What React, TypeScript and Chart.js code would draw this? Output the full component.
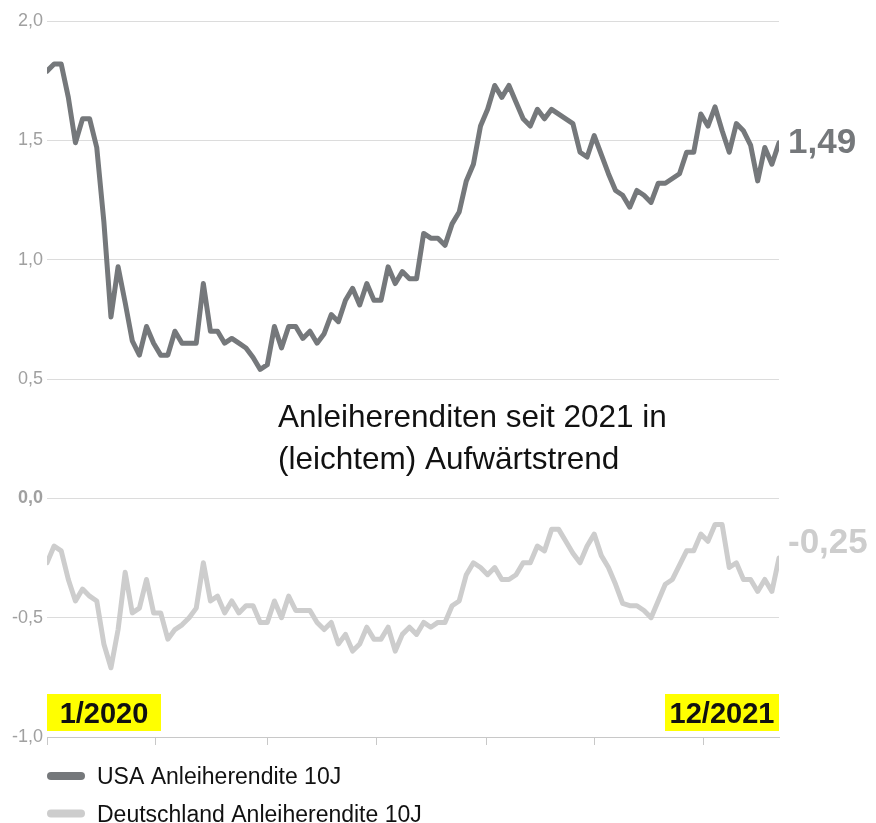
import React, { useEffect, useRef } from 'react';
import { Chart, registerables } from 'chart.js';

Chart.register(...registerables);

const FONT = '"Liberation Sans", Arial, Helvetica, sans-serif';

// USA 10Y yield, weekly, 1/2020 .. 12/2021
const usaYield = [
  1.79, 1.82, 1.82, 1.68, 1.49, 1.59, 1.59, 1.47, 1.16, 0.76,
  0.97, 0.82, 0.66, 0.60, 0.72, 0.65, 0.60, 0.60, 0.70, 0.65,
  0.65, 0.65, 0.90, 0.70, 0.70, 0.65, 0.67, 0.65, 0.63, 0.59,
  0.54, 0.56, 0.72, 0.63, 0.72, 0.72, 0.67, 0.70, 0.65, 0.69,
  0.77, 0.74, 0.83, 0.88, 0.81, 0.90, 0.83, 0.83, 0.97, 0.90,
  0.95, 0.92, 0.92, 1.11, 1.09, 1.09, 1.06, 1.15, 1.20, 1.33,
  1.40, 1.56, 1.63, 1.73, 1.68, 1.73, 1.66, 1.59, 1.56, 1.63,
  1.59, 1.63, 1.61, 1.59, 1.57, 1.45, 1.43, 1.52, 1.44, 1.36,
  1.29, 1.27, 1.22, 1.29, 1.27, 1.24, 1.32, 1.32, 1.34, 1.36,
  1.45, 1.45, 1.61, 1.56, 1.64, 1.54, 1.45, 1.57, 1.54, 1.48,
  1.33, 1.47, 1.40, 1.49,
];

// Germany 10Y yield, weekly, 1/2020 .. 12/2021
const deYield = [
  -0.27, -0.20, -0.22, -0.34, -0.43, -0.38, -0.41, -0.43, -0.61, -0.71,
  -0.55, -0.31, -0.48, -0.46, -0.34, -0.48, -0.48, -0.59, -0.55, -0.53,
  -0.50, -0.46, -0.27, -0.43, -0.41, -0.48, -0.43, -0.48, -0.45, -0.45,
  -0.52, -0.52, -0.43, -0.50, -0.41, -0.47, -0.47, -0.47, -0.52, -0.55,
  -0.52, -0.61, -0.57, -0.64, -0.61, -0.54, -0.59, -0.59, -0.54, -0.64,
  -0.57, -0.54, -0.57, -0.52, -0.54, -0.52, -0.52, -0.45, -0.43, -0.32,
  -0.27, -0.29, -0.32, -0.29, -0.34, -0.34, -0.32, -0.27, -0.27, -0.20,
  -0.22, -0.13, -0.13, -0.18, -0.23, -0.27, -0.20, -0.15, -0.24, -0.29,
  -0.36, -0.44, -0.45, -0.45, -0.47, -0.50, -0.43, -0.36, -0.34, -0.28,
  -0.22, -0.22, -0.15, -0.18, -0.11, -0.11, -0.29, -0.27, -0.34, -0.34,
  -0.39, -0.34, -0.39, -0.25,
];

const seriesNames = ['USA Anleiherendite 10J', 'Deutschland Anleiherendite 10J'];
const seriesColors = ['#75787b', '#cdcdcd'];
const periodLabels = ['1/2020', '12/2021'];
const titleLines = ['Anleiherenditen seit 2021 in', '(leichtem) Aufwärtstrend'];
const xTickPositions = [0, 15.2, 31, 46.4, 61.8, 77, 92.4];
const yTicks = [-1, -0.5, 0, 0.5, 1, 1.5, 2];
const endLabelBaselineOffsets = [10, -5];

const fmt = (v: number, d: number) => v.toFixed(d).replace('.', ',').replace('-0,00', '0,00');

const overlayPlugin = {
  id: 'overlay',
  afterDatasetsDraw(chart: any) {
    const { ctx, chartArea: a, scales } = chart;
    const xs = scales.x;
    const ys = scales.y;
    ctx.save();

    // end-of-series value labels
    chart.data.datasets.forEach((ds: any, di: number) => {
      const last = ds.data[ds.data.length - 1];
      const px = xs.getPixelForValue(last.x) + 9;
      const py = ys.getPixelForValue(last.y) + endLabelBaselineOffsets[di];
      ctx.font = `bold 35px ${FONT}`;
      ctx.fillStyle = ds.borderColor;
      ctx.textAlign = 'left';
      ctx.textBaseline = 'alphabetic';
      ctx.fillText(fmt(last.y, 2), px, py);
    });

    // title annotation
    ctx.font = `31.5px ${FONT}`;
    ctx.fillStyle = '#111111';
    ctx.textAlign = 'left';
    ctx.textBaseline = 'alphabetic';
    titleLines.forEach((line, i) => {
      ctx.fillText(line, a.left + 231, 427 + i * 42);
    });

    // period labels (yellow boxes)
    const boxW = 114;
    const boxTop = a.bottom - 43;
    const boxH = 37;
    const boxes = [a.left, a.right - boxW];
    periodLabels.forEach((lab, i) => {
      const bx = boxes[i];
      ctx.fillStyle = '#ffff00';
      ctx.fillRect(bx, boxTop, boxW, boxH);
      ctx.font = `bold 29px ${FONT}`;
      ctx.fillStyle = '#111111';
      ctx.textAlign = 'center';
      ctx.textBaseline = 'alphabetic';
      ctx.fillText(lab, bx + boxW / 2, boxTop + boxH / 2 + 10.5);
    });

    ctx.restore();
  },
  afterDraw(chart: any) {
    const { ctx, chartArea: a } = chart;
    ctx.save();
    chart.data.datasets.forEach((ds: any, i: number) => {
      const cy = a.bottom + 39 + i * 37.5;
      ctx.strokeStyle = ds.borderColor;
      ctx.lineWidth = 8;
      ctx.lineCap = 'round';
      ctx.beginPath();
      ctx.moveTo(a.left + 4, cy);
      ctx.lineTo(a.left + 34, cy);
      ctx.stroke();
      ctx.font = `23px ${FONT}`;
      ctx.fillStyle = '#111111';
      ctx.textAlign = 'left';
      ctx.textBaseline = 'alphabetic';
      ctx.fillText(ds.label, a.left + 50, cy + 8);
    });
    ctx.restore();
  },
};

export default function App() {
  const canvasRef = useRef<HTMLCanvasElement | null>(null);

  useEffect(() => {
    const canvas = canvasRef.current;
    if (!canvas) return;
    const chart = new Chart(canvas, {
      type: 'line',
      data: {
        datasets: [
          {
            label: seriesNames[0],
            data: usaYield.map((y, i) => ({ x: i, y })),
            borderColor: seriesColors[0],
            backgroundColor: seriesColors[0],
            borderWidth: 5,
            borderJoinStyle: 'round',
            borderCapStyle: 'round',
            pointRadius: 0,
            tension: 0,
          },
          {
            label: seriesNames[1],
            data: deYield.map((y, i) => ({ x: i, y })),
            borderColor: seriesColors[1],
            backgroundColor: seriesColors[1],
            borderWidth: 5,
            borderJoinStyle: 'round',
            borderCapStyle: 'round',
            pointRadius: 0,
            tension: 0,
          },
        ],
      },
      options: {
        responsive: false,
        animation: false,
        devicePixelRatio: 1,
        layout: { padding: { top: 21, right: 97, bottom: 76, left: 0 } },
        plugins: { legend: { display: false }, tooltip: { enabled: false } },
        scales: {
          x: {
            type: 'linear',
            min: 0,
            max: usaYield.length - 1,
            afterBuildTicks: (s: any) => {
              s.ticks = xTickPositions.map((v) => ({ value: v }));
            },
            ticks: { display: false },
            grid: {
              drawOnChartArea: false,
              drawTicks: true,
              tickLength: 8,
              color: '#c8c8c8',
              lineWidth: 1,
            },
            border: { display: true, color: '#c8c8c8', width: 1 },
            afterFit: (s: any) => {
              s.height = 10;
            },
          },
          y: {
            type: 'linear',
            min: -1,
            max: 2,
            afterBuildTicks: (s: any) => {
              s.ticks = yTicks.map((v) => ({ value: v }));
            },
            ticks: {
              padding: 4,
              color: '#a0a0a0',
              font: (c: any) => ({
                family: FONT,
                size: 18,
                weight: c.tick && c.tick.value === 0 ? 'bold' : 'normal',
              }),
              callback: (v: any) => fmt(Number(v), 1),
            },
            grid: {
              drawTicks: false,
              color: (c: any) => (c.tick && c.tick.value === -1 ? '#c8c8c8' : '#dcdcdc'),
              lineWidth: 1,
            },
            border: { display: false },
            afterFit: (s: any) => {
              s.width = 47;
            },
          },
        },
      } as any,
      plugins: [overlayPlugin],
    } as any);
    return () => chart.destroy();
  }, []);

  return (
    <div
      style={{
        position: 'absolute',
        left: 0,
        top: 0,
        width: 876,
        height: 823,
        background: '#ffffff',
      }}
    >
      <canvas ref={canvasRef} width={876} height={823} style={{ display: 'block', width: 876, height: 823 }} />
    </div>
  );
}
